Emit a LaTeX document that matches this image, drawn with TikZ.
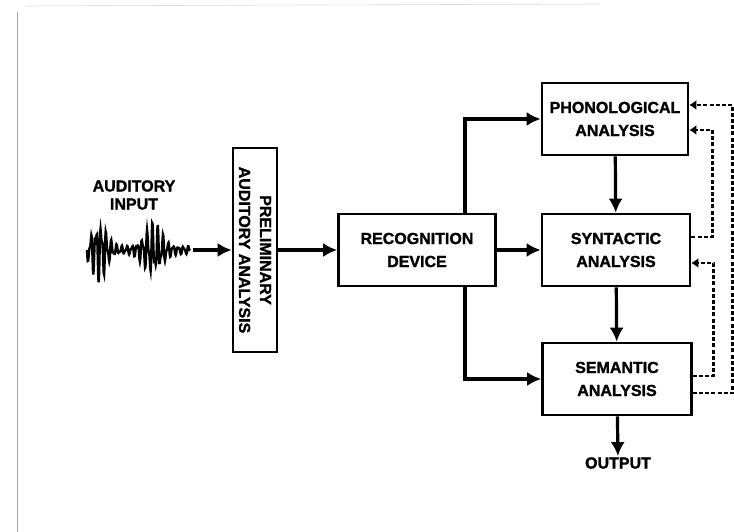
\documentclass[tikz,border=0pt]{standalone}
\usepackage{fontspec}
\setmainfont{Liberation Sans}[BoldFeatures={FakeBold=1.4}]
\usetikzlibrary{arrows.meta}

\tikzset{
  stage/.style={draw, line width=2.6pt, align=center, inner sep=2pt,
    font=\bfseries\fontsize{16}{23}\selectfont},
  tag/.style={align=center, inner sep=1pt, font=\bfseries\fontsize{16}{18}\selectfont},
  flow/.style={line width=3.2pt, -{Latex[length=14pt,width=14pt]}},
  feedback/.style={line width=2.8pt, dash pattern=on 4pt off 2.2pt, -{Latex[length=7pt,width=10pt]}},
}

\begin{document}
\begin{tikzpicture}[x=1pt,y=-1pt]
  \useasboundingbox (0,0) rectangle (734,532);
  % page edges
  \draw[gray!70, line width=1pt] (17,12) -- (17,532);
  \draw[gray!30, line width=0.6pt] (25,6) -- (600,4);

  % input signal
  \node[tag] (input) at (134,195) {AUDITORY\\INPUT};
  \draw[line width=2.4pt, line join=miter] plot[domain=0:103, samples=260]
    ({87+\x}, {250 + (4+26*exp(-((\x-12)/10)^2)+22*exp(-((\x-66)/12)^2))*(0.75*sin(\x*70)+0.35*sin(\x*131))});
  \coordinate (wave) at (193,250);

  % stages
  \node[stage, rotate=-90, minimum width=204pt, minimum height=44pt, font=\bfseries\fontsize{16}{21}\selectfont]
    (prelim) at (255,250) {PRELIMINARY\\AUDITORY ANALYSIS};
  \node[stage, minimum width=157pt, minimum height=72pt] (recog) at (417,250) {RECOGNITION\\DEVICE};
  \node[stage, minimum width=146pt, minimum height=72pt] (phon) at (615,119) {PHONOLOGICAL\\ANALYSIS};
  \node[stage, minimum width=148pt, minimum height=72pt] (synt) at (616,250) {SYNTACTIC\\ANALYSIS};
  \node[stage, minimum width=149pt, minimum height=72pt] (sem) at (617,379) {SEMANTIC\\ANALYSIS};
  \node[tag] (output) at (618,463) {OUTPUT};

  % forward paths
  \coordinate (tap) at (465,0);
  \draw[flow] (wave) -- (prelim.south);
  \draw[flow] (prelim.north) -- (recog.west);
  \draw[flow] (recog.east) -- (synt.west);
  \draw[flow] (recog.north -| tap) |- (phon.west);
  \draw[flow] (recog.south -| tap) |- (sem.west);
  \draw[flow] (phon) -- (synt);
  \draw[flow] (synt) -- (sem);
  \draw[flow] (sem) -- (output);

  % feedback paths
  \draw[feedback] ([yshift=13pt]synt.east) -- ++(21,0) |- ([yshift=-11pt]phon.east);
  \draw[feedback] ([yshift=3pt]sem.east) -- ++(21,0) |- ([yshift=-13pt]synt.east);
  \draw[feedback] ([yshift=-14pt]sem.east) -- ++(40,0) |- ([yshift=14pt]phon.east);
\end{tikzpicture}
\end{document}
